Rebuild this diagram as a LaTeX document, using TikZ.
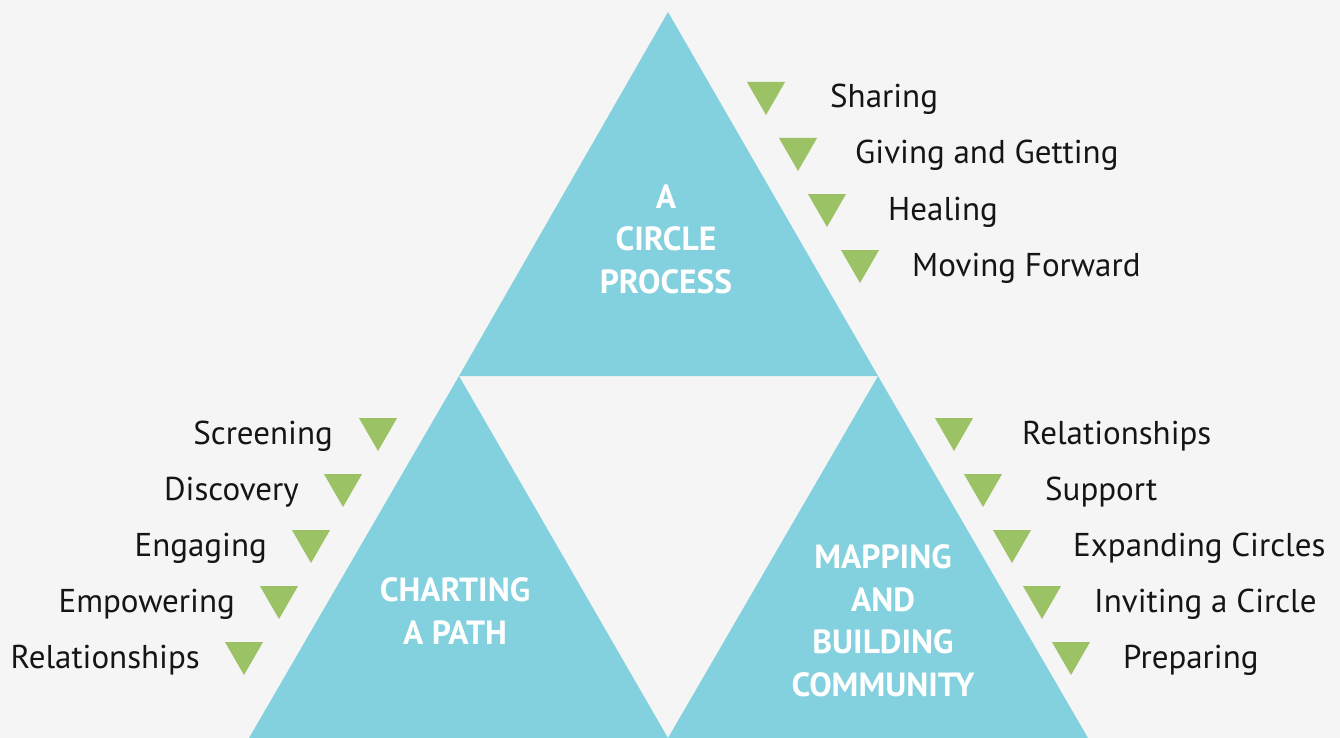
\documentclass[tikz,border=0pt]{standalone}
\usepackage{fontspec}
\setmainfont{PT Sans}
\usetikzlibrary{shapes.geometric}
\definecolor{bgcol}{HTML}{F5F5F5}
\definecolor{teal}{HTML}{83D1DE}
\definecolor{leafgreen}{HTML}{9CC266}
\definecolor{ink}{HTML}{151515}
\begin{document}
\begin{tikzpicture}[x=1pt,y=-1pt,
    tri/.style={regular polygon,regular polygon sides=3,shape border rotate=180,fill=leafgreen,minimum size=44pt,inner sep=0pt},
    item/.style={inner sep=0pt,text=ink,font=\fontsize{33}{38}\selectfont},
    title/.style={align=center,text=white,font=\fontsize{33.5}{42.5}\bfseries\selectfont}]
    \useasboundingbox (0,0) rectangle (1340,738);
    \fill[bgcol] (0,0) rectangle (1340,738);
    \fill[teal] (668,12) -- (459,376) -- (878,376) -- cycle;
    \fill[teal] (459,376) -- (249,738) -- (668,738) -- cycle;
    \fill[teal] (878,376) -- (668,738) -- (1088,738) -- cycle;
    \node[title] (circle) at (666,239) {A\\CIRCLE\\PROCESS};
    \node[title] (charting) at (455,611) {CHARTING\\A PATH};
    \node[title] (mapping) at (883,621) {MAPPING\\AND\\BUILDING\\COMMUNITY};
    \node[tri] (c1) at (766,93) {};
    \node[tri] (c2) at (798,149) {};
    \node[tri] (c3) at (827,205) {};
    \node[tri] (c4) at (860,261) {};
    \node[item,anchor=base west] (sharing) at (830,108) {Sharing};
    \node[item,anchor=base west] (giving) at (855,164) {Giving and Getting};
    \node[item,anchor=base west] (healing) at (888,220) {Healing};
    \node[item,anchor=base west] (moving) at (912,276) {Moving Forward};
    \node[tri] (p1) at (378,429) {};
    \node[tri] (p2) at (343,485) {};
    \node[tri] (p3) at (311,541) {};
    \node[tri] (p4) at (279,597) {};
    \node[tri] (p5) at (244,653) {};
    \node[item,anchor=base east] (screening) at (333,444) {Screening};
    \node[item,anchor=base east] (discovery) at (299,500) {Discovery};
    \node[item,anchor=base east] (engaging) at (267,556) {Engaging};
    \node[item,anchor=base east] (empowering) at (235,612) {Empowering};
    \node[item,anchor=base east] (relleft) at (200,668) {Relationships};
    \node[tri] (m1) at (954,429) {};
    \node[tri] (m2) at (983,485) {};
    \node[tri] (m3) at (1012,541) {};
    \node[tri] (m4) at (1042,597) {};
    \node[tri] (m5) at (1071,653) {};
    \node[item,anchor=base west] (relright) at (1022,444) {Relationships};
    \node[item,anchor=base west] (support) at (1045,500) {Support};
    \node[item,anchor=base west] (expanding) at (1073,556) {Expanding Circles};
    \node[item,anchor=base west] (inviting) at (1094,612) {Inviting a Circle};
    \node[item,anchor=base west] (preparing) at (1123,668) {Preparing};
\end{tikzpicture}
\end{document}
